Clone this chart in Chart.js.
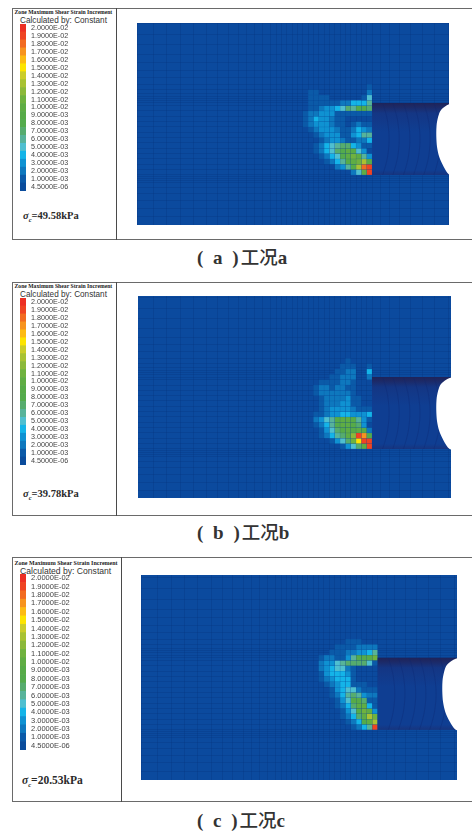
<!DOCTYPE html>
<html lang="en">
<head>
  <meta charset="UTF-8">
  <title>Zone Maximum Shear Strain Increment</title>
  <script src="https://cdn.jsdelivr.net/npm/chart.js"></script>
  <style>
    body { margin: 0; background: #fff; width: 472px; height: 834px; overflow: hidden; position: relative; }
    canvas { position: absolute; }
    .frame { position: absolute; box-sizing: border-box; border: 1px solid #6a6a6a; border-right: 0; }
    .divider { position: absolute; width: 1px; background: #4a4a4a; }
    .heading { position: absolute; font: bold 5.7px "Liberation Serif", serif; color: #222; white-space: nowrap; }
    .calc { position: absolute; font: 8.2px "Liberation Sans", Arial, sans-serif; color: #333; white-space: nowrap; }
    .sigma { position: absolute; font: bold 10.5px "Liberation Serif", serif; color: #2a2a2a; white-space: nowrap; }
    .sigma i { font-weight: bold; }
    .sigma sub { font-size: 6.5px; line-height: 0; }
    .caption { position: absolute; font: bold 19px "Liberation Serif", serif; color: #333; white-space: nowrap; word-spacing: 5px; }
    .caption b { font: 500 18.5px "Noto Sans CJK SC", sans-serif; margin-left: 2px; }
  </style>
</head>
<body>
<script>
  // colour bar, top to bottom
  const levelLabels = ['2.0000E-02','1.9000E-02','1.8000E-02','1.7000E-02','1.6000E-02','1.5000E-02','1.4000E-02',
    '1.3000E-02','1.2000E-02','1.1000E-02','1.0000E-02','9.0000E-03','8.0000E-03','7.0000E-03','6.0000E-03',
    '5.0000E-03','4.0000E-03','3.0000E-03','2.0000E-03','1.0000E-03','4.5000E-06'];
  const levelColors = ['#ed3024','#ef4423','#f26b21','#f7931e','#fdbb13','#fde400','#cbcd2a',
    '#a8c233','#8cb93a','#6fb23f','#5fad44','#57ab48','#54ab4c','#56ac6e','#57b39a',
    '#4fbfd0','#14b4e8','#0f92d2','#0e78be','#0b5aa8','#0a4c9c'];
  const levelBar = levelLabels.map(() => 1);

  // strain increment in units of 1E-03, rows go up from the tunnel floor,
  // columns go left from the tunnel face, 0 = background
  const heatA = [
    [19,10,5,2],
    [19,18,13,9,6,3,2],
    [9,13,11,10,9,6,4,2,1],
    [3,6,10,11,10,8,5,4,2,1],
    [0,3,5,9,10,8,7,5,4,2,1],
    [1,1,3,4,7,7,6,5,4,2,1],
    [4,2,2,1,1,2,3,3,2,1],
    [6,6,4,3,1,1,3,3,3,2,1],
    [2,3,4,2,1,1,2,3,3,3,2,1],
    [1,1,2,1,0,1,1,2,3,3,3,2,1],
    [0,0,0,0,0,1,1,2,3,3,4,2,1],
    [1,1,1,1,1,1,1,3,3,3,2,2,1],
    [7,8,8,6,7,5,4,3,3,2,1,1],
    [6,4,4,4,2,2,1,1,1,1,1,1],
    [5,1,0,0,0,0,0,0,1,1,1,1],
    [2,0,0,0,0,0,0,0,0,0,1,1],
    [1]
  ];
  const heatB = [
    [19,10,7,5,3,1],
    [19,19,15,11,7,5,3,1],
    [8,17,19,12,10,7,6,4,2,1],
    [2,9,10,9,10,9,7,5,3,1],
    [0,3,7,9,10,10,8,6,4,2,1],
    [1,3,6,9,10,10,9,6,5,3,2],
    [4,3,3,3,4,4,3,3,2,1,1],
    [1,1,1,2,3,3,3,3,2,1],
    [0,0,1,1,3,3,2,2,2,1],
    [0,0,1,1,3,2,2,2,2,1],
    [0,0,0,1,2,2,2,2,2,2,1],
    [0,0,0,1,1,2,2,1,2,2,1],
    [0,0,0,1,2,2,1,1,1,1],
    [2,0,0,2,2,2,1,1],
    [4,0,0,2,2,1,1],
    [1,0,0,1,1,1],
    [0,0,0,0,1]
  ];
  const heatC = [
    [19,6,4,2,1],
    [13,10,8,4,2,1],
    [11,13,10,7,4,2,1],
    [3,10,11,9,5,3,1],
    [1,4,10,10,7,4,2,1],
    [1,1,7,9,9,5,3,1],
    [2,2,3,6,7,6,4,2,1],
    [1,1,1,2,5,5,4,3,1],
    [0,0,1,1,1,4,4,3,2,1],
    [0,0,0,0,1,4,4,4,3,2,1],
    [0,0,0,0,1,3,4,4,4,3,1],
    [0,0,0,0,1,2,5,5,4,3,2],
    [1,5,7,7,7,7,6,5,3,3,2],
    [11,9,8,8,6,3,1,1,2,2,1],
    [6,4,3,3,2,2,1,1,1],
    [2,2,2,2,1,1,1,1],
    [0,0,0,1,1,1]
  ];

  // mesh lines, in cell widths from the tunnel face / floor
  const meshX = [-44,-41,-38.5,-36,-33.5,-31,-29,-27,-25,-23.5,-22,-20.5,-19,-18,-17,-16,-15,-14,-13,-12,-11,-10,-9,-8,-7,-6,-5,-4,-3,-2,-1,0,1.6,3.2,5.2,7.2,9.4,11.7,14.4];
  const meshY = [-9.4,-7.8,-6.2,-4.8,-3.5,-2.4,-1.5,-1.1,-0.7,-0.3,0,1,2,3,4,5,6,7,8,9,10,11,12,13,13.5,14,14.4,14.8,15.2,16,17,18.2,19.6,21,22.6,24.4,26.4,28.5];

  // tunnel body, ribs and the white opening
  const tunnelX = [0, 16, 16, 0];
  const tunnelY = [0, 0, 13.5, 13.5];
  const ribX = [2, 3.9, 5.9, 7.8, 9.7, 11.6];
  const ribY = [0, 2, 4, 6.75, 9.5, 11.5, 13.5];
  const ribBulge = [0, 0.6, 1.0, 1.2, 1.0, 0.6, 0];
  const openingX = [16, 14.56, 13.44, 12.6, 12.2, 12.06, 12.1, 12.4, 12.94, 14.56, 16];
  const openingY = [0, 0, 1.56, 3.4, 5.2, 7.2, 9.2, 10.9, 12.2, 13.3, 13.3];

  const captionLetters = ['a', 'b', 'c'];
  const sigmaValues = ['49.58', '39.78', '20.53'];

  const panels = [
    { heat: heatA, frame: [12, 8, 460, 232], divider: 116,
      block: [137, 23, 312, 202], range: [-44.1, 14.44, -9.38, 28.5],
      bar: [20, 24, 167], headY: 8.5, headX: 14.5, headSize: 5.7, calcX: 20, calcY: 15.5, calcSize: 8.2, labelSize: 7.2,
      sigma: [23, 210, 10.5], caption: [197, 243] },
    { heat: heatB, frame: [12, 282, 460, 234], divider: 116,
      block: [138, 296, 313, 202], range: [-43.9, 14.82, -9.2, 28.7],
      bar: [20, 298, 167], headY: 282.5, headX: 14.5, headSize: 5.7, calcX: 20, calcY: 289.5, calcSize: 8.2, labelSize: 7.2,
      sigma: [23, 488, 10.5], caption: [197, 518] },
    { heat: heatC, frame: [12, 557, 460, 245], divider: 121,
      block: [141, 575, 316, 205], range: [-44.1, 14.8, -9.4, 29],
      bar: [20, 574, 176], headY: 559.5, headX: 14.5, headSize: 6, calcX: 20, calcY: 565.5, calcSize: 8.6, labelSize: 7.5,
      sigma: [22, 774, 11.5], caption: [197, 806] }
  ];

  const blockFill = {
    id: 'blockFill',
    beforeDraw(chart) {
      const a = chart.chartArea;
      chart.ctx.fillStyle = '#0b4a9e';
      chart.ctx.fillRect(a.left, a.top, a.width, a.height);
    }
  };

  function addDiv(cls, left, top, html) {
    const el = document.createElement('div');
    el.className = cls;
    el.style.left = left + 'px';
    el.style.top = top + 'px';
    el.innerHTML = html;
    document.body.appendChild(el);
    return el;
  }

  function addCanvas(left, top, w, h) {
    const c = document.createElement('canvas');
    c.width = w;
    c.height = h;
    c.style.left = left + 'px';
    c.style.top = top + 'px';
    document.body.appendChild(c);
    return c;
  }

  function heatPoints(rows) {
    const pts = [];
    rows.forEach((row, r) => row.forEach((v, i) => {
      if (v > 0) pts.push({ x: -(i + 0.5), y: r + 0.5, v: v });
    }));
    return pts;
  }

  function pairUp(xs, ys) {
    return xs.map((x, i) => ({ x: x, y: ys[i] }));
  }

  function tunnelGradient(ctx) {
    const chart = ctx.chart;
    if (!chart.chartArea) return '#0e3f92';
    const y = chart.scales.y;
    const g = chart.ctx.createLinearGradient(0, y.getPixelForValue(13.5), 0, y.getPixelForValue(0));
    g.addColorStop(0, '#1f2358');
    g.addColorStop(0.06, '#1c2a68');
    g.addColorStop(0.14, '#143684');
    g.addColorStop(0.4, '#0f3e92');
    g.addColorStop(0.93, '#0f3e92');
    g.addColorStop(1, '#17347e');
    return g;
  }

  function meshAxis(lines, min, max) {
    return {
      min: min,
      max: max,
      afterBuildTicks: scale => {
        scale.ticks = lines.filter(v => v >= min && v <= max).map(v => ({ value: v }));
      },
      ticks: { display: false },
      border: { display: false },
      grid: { color: 'rgba(6,44,118,0.38)', lineWidth: 0.6, drawTicks: false }
    };
  }

  panels.forEach((p, idx) => {
    // frame, divider and text
    const f = addDiv('frame', p.frame[0], p.frame[1], '');
    f.style.width = p.frame[2] + 'px';
    f.style.height = p.frame[3] + 'px';
    const d = addDiv('divider', p.divider, p.frame[1], '');
    d.style.height = p.frame[3] + 'px';
    addDiv('heading', p.headX, p.headY, 'Zone Maximum Shear Strain Increment').style.fontSize = p.headSize + 'px';
    addDiv('calc', p.calcX, p.calcY, 'Calculated by: Constant').style.fontSize = p.calcSize + 'px';
    addDiv('sigma', p.sigma[0], p.sigma[1], '<i>σ</i><sub><i>c</i></sub>=' + sigmaValues[idx] + 'kPa').style.fontSize = p.sigma[2] + 'px';
    const L = captionLetters[idx];
    addDiv('caption', p.caption[0], p.caption[1], '( ' + L + ' )<b>工况</b>' + L);

    // colour bar
    new Chart(addCanvas(p.bar[0], p.bar[1], 80, p.bar[2]), {
      type: 'bar',
      data: {
        labels: levelLabels,
        datasets: [{ data: levelBar, backgroundColor: levelColors, borderWidth: 0, barPercentage: 1, categoryPercentage: 1 }]
      },
      options: {
        indexAxis: 'y',
        responsive: false,
        animation: false,
        layout: { padding: 0, autoPadding: false },
        plugins: { legend: { display: false }, tooltip: { enabled: false } },
        scales: {
          x: { display: false, min: 0, max: 1 },
          y: {
            position: 'right',
            // tick padding also pads the axis ends, the bar has to fill the canvas height
            afterFit: s => { s.width = 74; s.paddingTop = 0; s.paddingBottom = 0; },
            grid: { display: false, drawTicks: false },
            border: { display: false },
            ticks: { autoSkip: false, padding: 5, color: '#444', font: { family: 'Liberation Sans', size: p.labelSize } }
          }
        }
      }
    });

    // model block
    const ribs = ribX.map(x0 => ({
      type: 'scatter',
      showLine: true,
      pointRadius: 0,
      borderWidth: 0.6,
      borderColor: 'rgba(12,38,110,0.55)',
      tension: 0.4,
      data: ribY.map((y, i) => ({ x: x0 + ribBulge[i], y: y }))
    }));
    new Chart(addCanvas(p.block[0], p.block[1], p.block[2], p.block[3]), {
      type: 'scatter',
      data: {
        datasets: [
          { label: 'opening', showLine: true, fill: 'shape', pointRadius: 0, borderWidth: 0, tension: 0.3,
            backgroundColor: '#fff', data: pairUp(openingX, openingY) },
          ...ribs,
          { label: 'tunnel', showLine: true, fill: 'shape', pointRadius: 0, borderWidth: 0,
            backgroundColor: tunnelGradient, data: pairUp(tunnelX, tunnelY) },
          { label: 'strain', pointStyle: 'rect', pointRadius: 3.65, pointBorderWidth: 0,
            pointBackgroundColor: c => levelColors[20 - c.raw.v], data: heatPoints(p.heat) }
        ]
      },
      options: {
        responsive: false,
        animation: false,
        events: [],
        layout: { padding: 0, autoPadding: false },
        plugins: { legend: { display: false }, tooltip: { enabled: false } },
        scales: {
          x: meshAxis(meshX, p.range[0], p.range[1]),
          y: meshAxis(meshY, p.range[2], p.range[3])
        }
      },
      plugins: [blockFill]
    }).canvas.style.filter = 'blur(0.4px)';
  });
</script>
</body>
</html>
